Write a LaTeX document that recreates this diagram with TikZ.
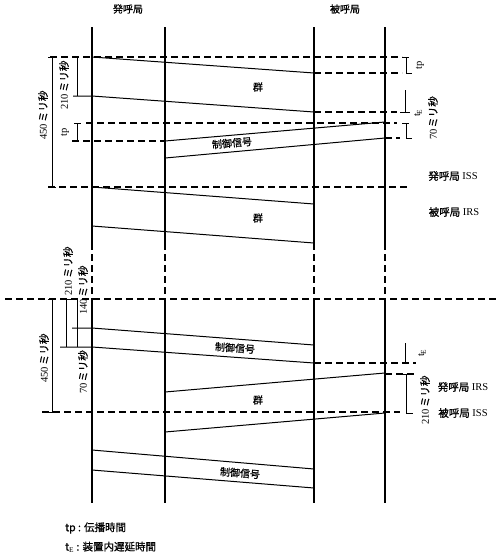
\documentclass[tikz,border=0pt]{standalone}
\usepackage{fontspec}
\setmainfont{Liberation Serif}
\newfontfamily\jp{Noto Sans CJK JP}[FakeBold=1]
\newcommand{\msec}[1]{#1\,{\jp ミリ秒}}
\begin{document}
\begin{tikzpicture}[x=1pt, y=-1pt,
    station/.style={line width=1.2pt},
    sig/.style={line width=1pt},
    guide/.style={line width=1.1pt, dash pattern=on 7pt off 4pt},
    brk/.style={line width=1pt},
    lbl/.style={font=\jp\fontsize{10}{12}\selectfont, inner sep=1pt},
    vlbl/.style={rotate=90, font=\fontsize{10.5}{12}\selectfont, inner sep=1pt},
    side/.style={font=\fontsize{10.5}{12}\selectfont, inner sep=1pt}]
    \useasboundingbox (0,0) rectangle (500,555);

    % Stations (solid, broken, solid)
    \foreach \x in {92,165,314,385} {
        \draw[station] (\x,27) -- (\x,243);
        \draw[guide] (\x,243) -- (\x,298);
        \draw[station] (\x,298) -- (\x,503);
    }
    \node[lbl] (hdrcall) at (128,9) {発呼局};
    \node[lbl] (hdrcalled) at (345,9) {被呼局};

    % Time reference lines
    \draw[guide] (50,57) -- (402,57);
    \draw[guide] (314,73) -- (402,73);
    \draw[guide] (314,112) -- (397,112);
    \draw[guide] (86,123) -- (397,123);
    \draw[guide] (72,141) -- (165,141);
    \draw[guide] (385,138) -- (400,138);
    \draw[guide] (48,187) -- (407,187);
    \draw[guide] (5,299) -- (498,299);
    \draw[guide] (314,363) -- (416,363);
    \draw[guide] (385,374) -- (416,374);
    \draw[guide] (42,412) -- (400,412);

    % First group
    \draw[sig] (92,57) -- (314,73);
    \draw[sig] (73,96) -- (92,96) -- (314,112);
    \node[lbl] (grpa) at (258,87) {群};
    % First control signal
    \draw[sig] (165,141) -- (385,122);
    \draw[sig] (165,158) -- (385,138);
    \node[lbl, rotate=5] (ctla) at (232,143) {制御信号};
    % Second group
    \draw[sig] (92,187) -- (314,204);
    \draw[sig] (92,226) -- (314,243);
    \node[lbl] (grpb) at (258,218) {群};
    % Second control signal
    \draw[sig] (72,328) -- (92,328) -- (314,345);
    \draw[sig] (60,347) -- (92,347) -- (314,363);
    \node[lbl, rotate=-4] (ctlb) at (235,348) {制御信号};
    % Third group
    \draw[sig] (165,392) -- (385,373);
    \draw[sig] (165,432) -- (385,413);
    \node[lbl] (grpc) at (258,400) {群};
    % Third control signal
    \draw[sig] (92,450) -- (314,469);
    \draw[sig] (92,470) -- (314,488);
    \node[lbl, rotate=-4.5] (ctlc) at (240,473) {制御信号};

    % Brackets, upper half
    \draw[brk] (48,57) -- (56,57) (52,57) -- (52,187) (48,187) -- (56,187);
    \draw[brk] (77,58) -- (77,96);
    \draw[brk] (74,123) -- (81,123) (77,123) -- (77,141);
    \draw[brk] (402,57) -- (409,57) (406,57) -- (406,73) -- (412,73);
    \draw[brk] (405,90) -- (405,112) (400,112) -- (410,112);
    \draw[brk] (402,123) -- (409,123) (406,123) -- (406,138) -- (412,138);
    \node[vlbl] (dur450a) at (43,115) {\msec{450}};
    \node[vlbl] (dur210a) at (64,85) {\msec{210}};
    \node[vlbl] (tpa) at (65,132) {tp};
    \node[vlbl] (tpb) at (420,65) {tp};
    \node[vlbl] (tea) at (418,113) {t$_\mathrm{E}$};
    \node[vlbl] (dur70a) at (433,118) {\msec{70}};
    \node[side] (issa) at (453,176) {{\jp 発呼局} ISS};
    \node[side] (irsa) at (454,212) {{\jp 被呼局} IRS};

    % Brackets, lower half
    \draw[brk] (48,299) -- (56,299) (52,299) -- (52,412) (46,412) -- (56,412);
    \draw[brk] (66,299) -- (77,299) (66,299) -- (66,347) (77,299) -- (77,347);
    \draw[brk] (405,343) -- (405,363);
    \draw[brk] (402,374) -- (410,374) (406,374) -- (406,413) -- (413,413);
    \node[vlbl] (dur210b) at (68,271) {\msec{210}};
    \node[vlbl] (dur140b) at (83,290) {\msec{140}};
    \node[vlbl] (dur70b) at (83,372) {\msec{70}};
    \node[vlbl] (dur450b) at (44,358) {\msec{450}};
    \node[vlbl] (teb) at (422,353) {t$_\mathrm{E}$};
    \node[vlbl] (dur210c) at (425,400) {\msec{210}};
    \node[side] (irsb) at (463,387) {{\jp 発呼局} IRS};
    \node[side] (issb) at (463,413) {{\jp 被呼局} ISS};

    % Legend
    \node[side, anchor=west] (legtp) at (64,528) {{\jp tp : 伝播時間}};
    \node[side, anchor=west] (legte) at (64,547) {{\jp t$_\mathrm{E}$ : 装置内遅延時間}};
\end{tikzpicture}
\end{document}
